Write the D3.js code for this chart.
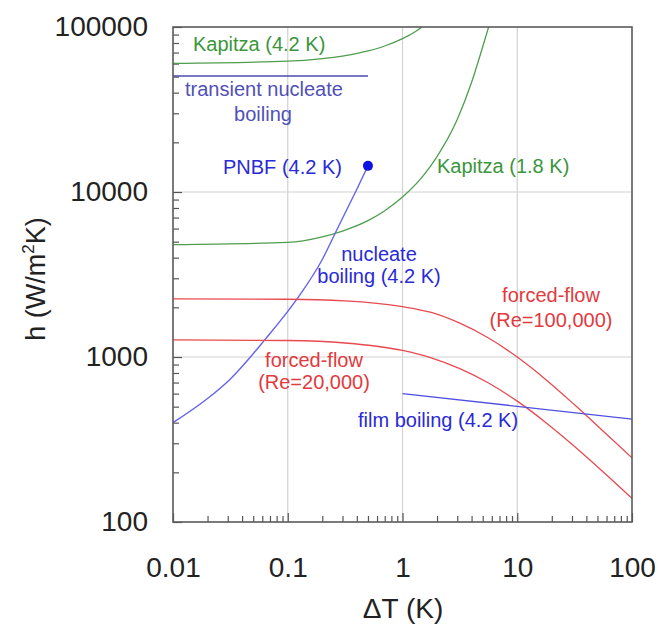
<!DOCTYPE html>
<html>
<head>
<meta charset="utf-8">
<script src="https://cdn.jsdelivr.net/npm/d3@7"></script>
<style>
  html, body { margin: 0; padding: 0; background: #fff; }
  svg { display: block; font-family: "Liberation Sans", Arial, sans-serif; }
</style>
</head>
<body>
<svg id="chart" width="658" height="628"></svg>
<script>
// ---- data (ΔT in K, h in W/m²K) ----
const xTicks = [0.01, 0.1, 1, 10, 100];
const xTickLabels = ["0.01", "0.1", "1", "10", "100"];
const yTicks = [100, 1000, 10000, 100000];
const yTickLabels = ["100", "1000", "10000", "100000"];

const kapitza42 = [[0.01, 60200], [0.1, 62100], [0.2, 64400], [0.3, 66700], [0.5, 71600], [0.7, 76700], [1.0, 85000], [1.3, 94000], [1.6, 104000]];
const kapitza18 = [[0.01, 4800], [0.1, 4950], [0.2, 5350], [0.3, 5800], [0.5, 6700], [0.7, 7700], [1.0, 9330], [1.5, 12450], [2.0, 16400], [3.0, 27500], [4.0, 46200], [5.0, 75900], [5.8, 107000]];
const transientNB = [[0.01, 50500], [0.5, 50500]];
const nucleate42 = [[0.01, 400], [0.02, 560], [0.031, 726], [0.063, 1270], [0.12, 2240], [0.2, 3900], [0.27, 5970], [0.4, 10400], [0.5, 14400]];
const pnbf = [[0.5, 14400]];
const forcedRe100k = [[0.01, 2249], [0.1, 2239], [0.316, 2188], [1, 2018], [1.78, 1862], [3.16, 1603], [5.62, 1303], [10, 1000], [17.8, 729], [31.6, 513], [56.2, 355], [100, 245]];
const forcedRe20k = [[0.01, 1271], [0.1, 1259], [0.316, 1216], [1, 1096], [1.78, 989], [3.16, 851], [5.62, 696], [10, 540], [17.8, 400], [31.6, 287], [56.2, 201], [100, 139]];
const filmBoiling42 = [[1, 600], [100, 420]];

// ---- layout ----
const svg = d3.select("#chart");
const L = 173, R = 632, T = 27, B = 522;
const x = d3.scaleLog().domain([0.01, 100]).range([L, R]);
const y = d3.scaleLog().domain([100, 100000]).range([B, T]);

const GREEN = "#4e9e4e", GREEN_T = "#3b963b";
const RED = "#e84a50", RED_T = "#e23a3e";
const BLUE = "#5050e0", BLUE_T = "#2a2ad6";

svg.append("defs").append("clipPath").attr("id", "plotclip")
  .append("rect").attr("x", L).attr("y", T).attr("width", R - L).attr("height", B - T);

// grid
svg.append("g").selectAll("line").data([0.1, 1, 10]).join("line")
  .attr("x1", d => x(d)).attr("x2", d => x(d)).attr("y1", T).attr("y2", B)
  .attr("stroke", "#d2d2d2").attr("stroke-width", 1.2);
svg.append("g").selectAll("line").data([1000, 10000]).join("line")
  .attr("y1", d => y(d)).attr("y2", d => y(d)).attr("x1", L).attr("x2", R)
  .attr("stroke", "#d2d2d2").attr("stroke-width", 1.2);

// minor ticks (inward)
const xMinor = [];
for (let e = -2; e < 2; e++) for (let m = 2; m <= 9; m++) xMinor.push(m * Math.pow(10, e));
const yMinor = [];
for (let e = 2; e < 5; e++) for (let m = 2; m <= 9; m++) yMinor.push(m * Math.pow(10, e));

const axX = d3.axisBottom(x).tickValues(xMinor).tickSize(-6).tickFormat("");
const gxm = svg.append("g").attr("transform", `translate(0,${B})`).call(axX);
gxm.select(".domain").remove();
gxm.selectAll("line").attr("stroke", "#555").attr("stroke-width", 1.2);

const axY = d3.axisLeft(y).tickValues(yMinor).tickSize(-6).tickFormat("");
const gym = svg.append("g").attr("transform", `translate(${L},0)`).call(axY);
gym.select(".domain").remove();
gym.selectAll("line").attr("stroke", "#555").attr("stroke-width", 1.2);

// major ticks + labels
const axXM = d3.axisBottom(x).tickValues(xTicks).tickSize(-9).tickPadding(35)
  .tickFormat((d, i) => xTickLabels[i]);
const gx = svg.append("g").attr("transform", `translate(0,${B})`).call(axXM);
gx.select(".domain").remove();
gx.selectAll("line").attr("stroke", "#555").attr("stroke-width", 1.2);
gx.selectAll("text").attr("font-size", 28).attr("fill", "#222")
  .attr("font-family", "Liberation Sans, Arial, sans-serif");

const axYM = d3.axisLeft(y).tickValues(yTicks).tickSize(-9).tickPadding(25)
  .tickFormat((d, i) => yTickLabels[i]);
const gy = svg.append("g").attr("transform", `translate(${L},0)`).call(axYM);
gy.select(".domain").remove();
gy.selectAll("line").attr("stroke", "#555").attr("stroke-width", 1.2);
gy.selectAll("text").attr("font-size", 28).attr("fill", "#222")
  .attr("font-family", "Liberation Sans, Arial, sans-serif");

// curves
const line = d3.line().x(d => x(d[0])).y(d => y(d[1])).curve(d3.curveMonotoneX);
const curves = svg.append("g").attr("clip-path", "url(#plotclip)").attr("fill", "none");
function drawLine(data, color, w) {
  curves.append("path").datum(data).attr("d", line)
    .attr("stroke", color).attr("stroke-width", w || 1.3);
}
drawLine(kapitza42, GREEN);
drawLine(kapitza18, GREEN);
drawLine(transientNB, "#4a4ab0", 1.4);
drawLine(nucleate42, "#6464ec", 1.4);
drawLine(forcedRe100k, RED);
drawLine(forcedRe20k, RED);
drawLine(filmBoiling42, BLUE, 1.4);

svg.append("g").selectAll("circle").data(pnbf).join("circle")
  .attr("cx", d => x(d[0])).attr("cy", d => y(d[1])).attr("r", 5)
  .attr("fill", "#1010e0");

// frame
svg.append("rect").attr("x", L).attr("y", T).attr("width", R - L).attr("height", B - T)
  .attr("fill", "none").attr("stroke", "#5a5a5a").attr("stroke-width", 1.6);

// annotations
const ann = svg.append("g").attr("font-size", 20);
function label(txt, px, py, color, anchor) {
  ann.append("text").attr("x", px).attr("y", py).attr("fill", color)
    .attr("text-anchor", anchor || "start").text(txt);
}
label("Kapitza (4.2 K)", 193, 51, GREEN_T);
label("transient nucleate", 185, 96, "#5050b8");
label("boiling", 263, 121, "#5050b8", "middle");
label("PNBF (4.2 K)", 223, 174, BLUE_T);
label("Kapitza (1.8 K)", 437, 173, GREEN_T);
label("nucleate", 379, 261, BLUE_T, "middle");
label("boiling (4.2 K)", 379, 283, BLUE_T, "middle");
label("forced-flow", 551, 302, RED_T, "middle");
label("(Re=100,000)", 551, 327, RED_T, "middle");
label("forced-flow", 314, 367, RED_T, "middle");
label("(Re=20,000)", 314, 389, RED_T, "middle");
label("film boiling (4.2 K)", 358, 427, BLUE_T);

// axis titles
svg.append("text").attr("x", 403).attr("y", 618).attr("text-anchor", "middle")
  .attr("font-size", 28).attr("fill", "#222").text("ΔT (K)");

const yt = svg.append("text").attr("transform", "translate(45,279) rotate(-90)")
  .attr("text-anchor", "middle").attr("font-size", 27).attr("fill", "#222");
yt.append("tspan").text("h (W/m");
yt.append("tspan").attr("font-size", 17).attr("dy", -11).text("2");
yt.append("tspan").attr("dy", 11).text("K)");
</script>
</body>
</html>
